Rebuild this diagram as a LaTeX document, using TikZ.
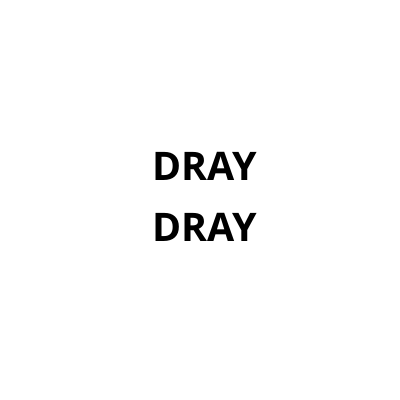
\documentclass[tikz,border=0pt]{standalone}
\usepackage{fontspec}
\setmainfont{Open Sans}[BoldFont={Open Sans Bold}]
\begin{document}
\begin{tikzpicture}
\useasboundingbox[fill=white] (0,0) rectangle (10,10);
\tikzset{word/.style={font=\bfseries\fontsize{28}{34}\selectfont, inner sep=0pt}}
\node[word] (a) at (5.11,5.83) {DRAY};
\node[word] (b) at (5.11,4.31) {DRAY};
\end{tikzpicture}
\end{document}
